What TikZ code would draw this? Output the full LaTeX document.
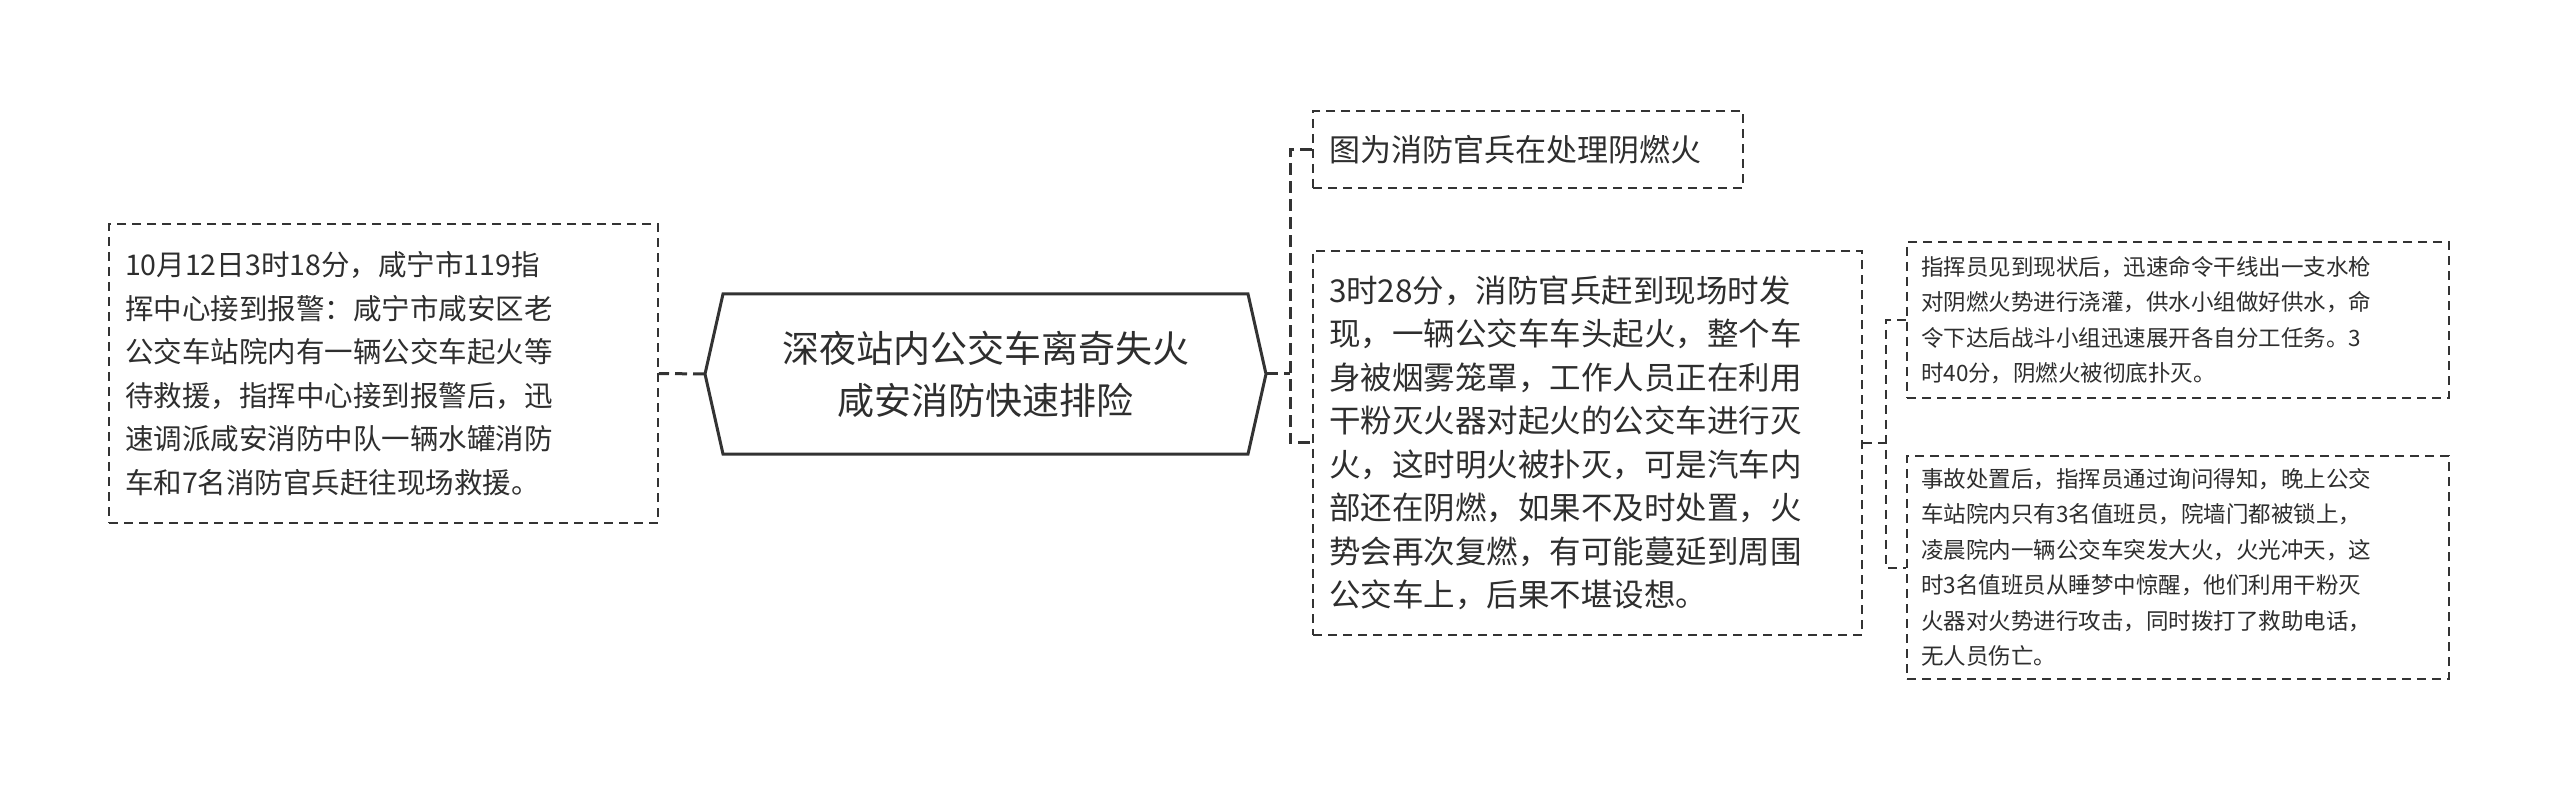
\documentclass[tikz,border=0pt]{standalone}
\usepackage{fontspec}
\setmainfont{Noto Sans CJK SC}
\usetikzlibrary{shapes.misc}
\definecolor{ln}{HTML}{333333}
\begin{document}
\begin{tikzpicture}[x=1pt,y=-1pt,
  box/.style={draw=ln,dashed,line width=1.8pt,dash pattern=on 9pt off 6pt,inner sep=0pt,align=left,text=ln!90!black},
  conn/.style={draw=ln,line width=3pt,dash pattern=on 12pt off 6pt}]
\useasboundingbox (0,0) rectangle (2560,791);
\fill[white] (0,0) rectangle (2560,791);
% center hexagon
\coordinate (hl) at (705,374); \coordinate (hr) at (1266,374);
\draw[ln,line width=3pt,fill=white] (hl) -- (723,294) -- (1248,294) -- (hr) -- (1248,454) -- (723,454) -- cycle;
\node[text=ln!90!black,align=center,font=\fontsize{37}{52}\selectfont] (c) at (985.5,374) {深夜站内公交车离奇失火\\咸安消防快速排险};
% left box
\node[box,minimum width=549pt,minimum height=299pt,text width=517pt,font=\fontsize{28.5}{43.5}\selectfont] (L) at (383.5,373.5) {10月12日3时18分，咸宁市119指\\挥中心接到报警：咸宁市咸安区老\\公交车站院内有一辆公交车起火等\\待救援，指挥中心接到报警后，迅\\速调派咸安消防中队一辆水罐消防\\车和7名消防官兵赶往现场救援。};
% top box
\node[box,minimum width=430pt,minimum height=77pt,text width=398pt,font=\fontsize{31}{40}\selectfont] (T) at (1528,149.5) {图为消防官兵在处理阴燃火};
% middle box
\node[box,minimum width=549pt,minimum height=384pt,text width=517pt,font=\fontsize{31.5}{43.5}\selectfont] (M) at (1587.5,443) {3时28分，消防官兵赶到现场时发\\现，一辆公交车车头起火，整个车\\身被烟雾笼罩，工作人员正在利用\\干粉灭火器对起火的公交车进行灭\\火，这时明火被扑灭，可是汽车内\\部还在阴燃，如果不及时处置，火\\势会再次复燃，有可能蔓延到周围\\公交车上，后果不堪设想。};
% far right boxes
\node[box,minimum width=542pt,minimum height=156pt,text width=514pt,font=\fontsize{22.5}{35.5}\selectfont] (R1) at (2178,320) {指挥员见到现状后，迅速命令干线出一支水枪\\对阴燃火势进行浇灌，供水小组做好供水，命\\令下达后战斗小组迅速展开各自分工任务。3\\时40分，阴燃火被彻底扑灭。};
\node[box,minimum width=542pt,minimum height=223pt,text width=514pt,font=\fontsize{22.5}{35.5}\selectfont] (R2) at (2178,567.5) {事故处置后，指挥员通过询问得知，晚上公交\\车站院内只有3名值班员，院墙门都被锁上，\\凌晨院内一辆公交车突发大火，火光冲天，这\\时3名值班员从睡梦中惊醒，他们利用干粉灭\\火器对火势进行攻击，同时拨打了救助电话，\\无人员伤亡。};
% connectors
\draw[conn] (hl) -- (L.east);
\coordinate (b1) at (1290,374);
\draw[conn] (hr) -- (b1);
\draw[conn] (T.west) -| (b1) |- (M.west);
\coordinate (b2) at (1886,443);
\draw[conn,line width=2pt,dash pattern=on 9pt off 6pt] (M.east) -- (b2);
\draw[conn,line width=2pt,dash pattern=on 9pt off 6pt] (R1.west) -| (b2) |- (R2.west);
\end{tikzpicture}
\end{document}
